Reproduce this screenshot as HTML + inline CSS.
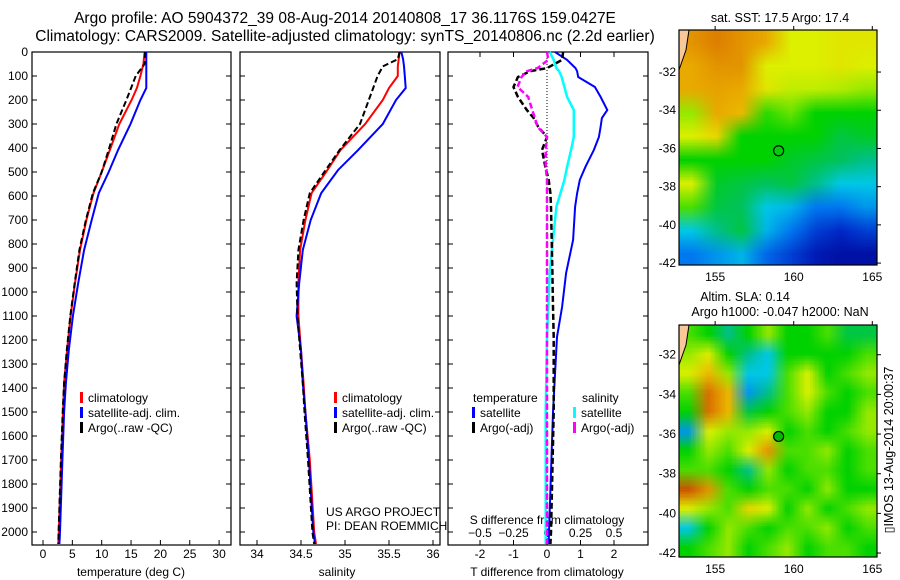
<!DOCTYPE html>
<html><head><meta charset="utf-8">
<style>
html,body{margin:0;padding:0;background:#fff;}
svg{display:block;font-family:"Liberation Sans",sans-serif;}
text{fill:#000;}
</style></head>
<body>
<svg id="fig" width="900" height="580" viewBox="0 0 900 580">
<text x="345" y="23" font-size="15.5" text-anchor="middle">Argo profile: AO 5904372_39 08-Aug-2014 20140808_17 36.1176S 159.0427E</text>
<text x="345" y="41" font-size="15.5" text-anchor="middle">Climatology: CARS2009. Satellite-adjusted climatology: synTS_20140806.nc (2.2d earlier)</text>
<g id="plots"></g>
<g id="maps"></g>
<text transform="translate(893,450) rotate(-90)" font-size="12.5" text-anchor="middle">▯IMOS 13-Aug-2014 20:00:37</text>
</svg>
<script>
// ---------- data ----------
const tDepths=[0,50,100,150,200,300,408,500,588,700,825,963,1100,1242,1380,1500,1700,2000,2050];
const tClim=[17.3,17.1,16.6,16.0,15.1,13.0,11.4,10.0,8.6,7.4,6.3,5.45,4.7,4.1,3.6,3.4,3.1,2.7,2.6];
const tSat=[17.6,17.6,17.6,17.6,16.6,14.9,12.8,11.2,9.5,8.3,7.0,6.0,5.1,4.4,3.9,3.6,3.3,2.9,2.8];
const tArgo=[17.4,17.3,15.8,15.0,14.2,12.5,11.2,10.0,8.5,7.3,6.2,5.4,4.65,4.05,3.6,3.35,3.05,2.65,2.6];
const sDepths=[0,30,60,100,150,200,300,408,492,588,700,825,963,1100,1242,1380,1500,1700,2000,2050];
const sClim=[35.62,35.61,35.6,35.6,35.5,35.43,35.23,34.95,34.8,34.62,34.55,34.49,34.47,34.47,34.5,34.53,34.55,34.6,34.65,34.67];
const sSat=[35.64,35.66,35.67,35.68,35.69,35.58,35.43,35.15,34.92,34.73,34.61,34.52,34.48,34.45,34.5,34.52,34.55,34.59,34.64,34.66];
const sArgo=[35.62,35.6,35.43,35.37,35.32,35.27,35.17,34.94,34.78,34.6,34.53,34.47,34.45,34.46,34.49,34.52,34.54,34.58,34.63,34.65];
const dDepths=[0,33,67,80,104,146,187,242,275,312,354,408,478,533,589,645,783,921,1062,1187,1500,2000,2050];
const dTsat=[0.24,0.6,0.85,0.9,0.93,1.43,1.6,1.8,1.64,1.6,1.55,1.4,1.15,0.98,0.9,0.84,0.78,0.57,0.45,0.3,0.18,0.06,0.05];
const dSsat=[0.02,0.05,0.07,0.09,0.11,0.13,0.15,0.2,0.2,0.2,0.2,0.18,0.15,0.13,0.1,0.07,0.045,0.02,0.01,0,-0.01,-0.01,-0.01];
const dTargo=[0.48,0.45,0.0,-0.5,-0.87,-1.0,-0.87,-0.6,-0.4,-0.26,0.0,-0.15,-0.05,0.05,0.1,0.12,0.14,0.16,0.18,0.2,0.2,0.12,0.1];
const dSargo=[0.0,0.01,-0.07,-0.15,-0.19,-0.22,-0.14,-0.11,-0.09,-0.07,0.0,-0.01,-0.01,0.0,0.0,0.0,0.0,0.0,0.0,0.0,0.0,0.0,0.0];
const depthTicks=[0,100,200,300,400,500,600,700,800,900,1000,1100,1200,1300,1400,1500,1600,1700,1800,1900,2000];
const tempTicks=[0,5,10,15,20,25,30];
const salTicks=[34,34.5,35,35.5,36];
const tdTicks=[-2,-1,0,1,2];
const sdTicks=[-0.5,-0.25,0,0.25,0.5];
const sstGrid=[
[0.75,0.78,0.75,0.72,0.6,0.6,0.62,0.62],
[0.72,0.75,0.75,0.6,0.6,0.6,0.62,0.6],
[0.72,0.73,0.72,0.62,0.58,0.58,0.57,0.55],
[0.55,0.72,0.7,0.48,0.52,0.45,0.45,0.45],
[0.6,0.65,0.45,0.45,0.45,0.45,0.4,0.42],
[0.45,0.45,0.45,0.45,0.42,0.4,0.38,0.35],
[0.6,0.42,0.4,0.38,0.4,0.35,0.3,0.3],
[0.5,0.4,0.38,0.3,0.28,0.22,0.22,0.25],
[0.3,0.35,0.4,0.28,0.22,0.15,0.12,0.15],
[0.22,0.25,0.28,0.2,0.15,0.08,0.05,0.05]];
const slaGrid=[
[0.5,0.45,0.35,0.45,0.55,0.45,0.45,0.5,0.4,0.4],
[0.55,0.6,0.45,0.35,0.3,0.45,0.45,0.45,0.45,0.5],
[0.6,0.7,0.55,0.3,0.3,0.5,0.6,0.45,0.5,0.55],
[0.5,0.8,0.7,0.25,0.35,0.5,0.6,0.5,0.45,0.5],
[0.45,0.8,0.7,0.4,0.45,0.5,0.55,0.45,0.45,0.55],
[0.25,0.6,0.55,0.55,0.6,0.45,0.5,0.45,0.5,0.55],
[0.45,0.55,0.5,0.6,0.75,0.5,0.5,0.55,0.45,0.5],
[0.5,0.5,0.45,0.35,0.55,0.45,0.5,0.5,0.45,0.5],
[0.85,0.75,0.5,0.45,0.5,0.5,0.45,0.55,0.45,0.45],
[0.6,0.55,0.5,0.65,0.6,0.45,0.55,0.45,0.5,0.55],
[0.3,0.45,0.55,0.5,0.45,0.5,0.5,0.55,0.45,0.5],
[0.45,0.5,0.55,0.45,0.5,0.55,0.45,0.5,0.5,0.45]];
const latTicks=[-32,-34,-36,-38,-40,-42];
const lonTicks=[155,160,165];
const argoLon=159.04, argoLat=-36.12;

// ---------- helpers ----------
const NS='http://www.w3.org/2000/svg';
function mk(tag,attrs,parent){const e=document.createElementNS(NS,tag);for(const k in attrs)e.setAttribute(k,attrs[k]);parent.appendChild(e);return e;}
const plots=document.getElementById('plots');
const TOP=52,BOT=545;
const yD=d=>TOP+d*0.24;
const xT=v=>43+v*5.87;
const xS=v=>257+(v-34)*88;
const xTd=v=>547+v*33.5;
const xSd=v=>547+v*134;

function box(x0,x1,name){
  const r=mk('rect',{x:x0,y:TOP,width:x1-x0,height:BOT-TOP,fill:'none',stroke:'#000','stroke-width':1.2},plots);
  
  
}
function line(xs,ds,sx,color,dash,name,w){
  const pts=xs.map((v,i)=>sx(v).toFixed(1)+','+yD(ds[i]).toFixed(1)).join(' ');
  const p=mk('polyline',{points:pts,fill:'none',stroke:color,'stroke-width':w||2},plots);
  if(dash)p.setAttribute('stroke-dasharray',dash);
  
  
}
function xTicks(ticks,sx,y,labelY,name,fmt){
  ticks.forEach(t=>{
    const x=sx(t);
    const l=mk('line',{x1:x,x2:x,y1:y,y2:y-5,stroke:'#000'},plots);
    
    
    const tx=mk('text',{x:x,y:labelY,'font-size':12,'text-anchor':'middle'},plots);
    tx.textContent=fmt?fmt(t):String(t);
    
    
  });
}
function legend(x,y,items,name){
  items.forEach((it,i)=>{
    const yy=y+i*15;
    if(it[0]){const b=mk('rect',{x:x,y:yy-10,width:3,height:11,fill:it[0]},plots);
      
      }
    const t=mk('text',{x:x+(it[0]?8:0),y:yy,'font-size':12},plots);
    t.textContent=it[1];
    
    
  });
}
function text(x,y,s,name,anchor){
  const t=mk('text',{x:x,y:y,'font-size':12,'text-anchor':anchor||'start'},plots);
  t.textContent=s;
  
  
}

box(32,231,'temperature-panel');
box(240,440,'salinity-panel');
box(448,648,'difference-panel');

depthTicks.forEach(d=>{
  const y=yD(d);
  [[32,1],[231,-1],[240,1],[440,-1],[448,1],[648,-1]].forEach(([x,s])=>{
    const l=mk('line',{x1:x,x2:x+5*s,y1:y,y2:y,stroke:'#000'},plots);
    
    
  });
  const t=mk('text',{x:28,y:y+4,'font-size':12,'text-anchor':'end'},plots);
  t.textContent=String(d);
  
  
});

xTicks(tempTicks,xT,BOT,558,'temperature-axis');
xTicks(salTicks,xS,BOT,558,'salinity-axis');
xTicks(tdTicks,xTd,BOT,558,'t-diff-axis');
tdTicks.forEach(t=>{const l=mk('line',{x1:xTd(t),x2:xTd(t),y1:TOP,y2:TOP+5,stroke:'#000'},plots);
  
  });
sdTicks.forEach(t=>{
  const tx=mk('text',{x:xSd(t),y:537,'font-size':12,'text-anchor':'middle'},plots);
  tx.textContent=String(t).replace('-','\u2212');
  
  
});
text(131,576,'temperature (deg C)','temperature-axis-title','middle');
text(337,576,'salinity','salinity-axis-title','middle');
text(547,576,'T difference from climatology','t-diff-axis-title','middle');
text(547,524,'S difference from climatology','s-diff-axis-title','middle');

const z=mk('line',{x1:547,x2:547,y1:TOP,y2:BOT,stroke:'#000','stroke-dasharray':'1,2'},plots);



line(tClim,tDepths,xT,'#f00',null,'temp-climatology-line');
line(tSat,tDepths,xT,'#00f',null,'temp-satellite-line');
line(tArgo,tDepths,xT,'#000','6,3','temp-argo-line');
line(sClim,sDepths,xS,'#f00',null,'sal-climatology-line');
line(sSat,sDepths,xS,'#00f',null,'sal-satellite-line');
line(sArgo,sDepths,xS,'#000','6,3','sal-argo-line');
line(dTsat,dDepths,xTd,'#00f',null,'t-diff-satellite-line');
line(dSsat,dDepths,xSd,'#0ff',null,'s-diff-satellite-line',2.5);
line(dTargo,dDepths,xTd,'#000','6,3','t-diff-argo-line',2.5);
line(dSargo,dDepths,xSd,'#f0f','6,3','s-diff-argo-line',2.5);

legend(80,402,[['#f00','climatology'],['#00f','satellite-adj. clim.'],['#000','Argo(..raw -QC)']],'temp-legend');
legend(334,402,[['#f00','climatology'],['#00f','satellite-adj. clim.'],['#000','Argo(..raw -QC)']],'sal-legend');
legend(473,402,[[null,'temperature']],'diff-legend-t-head');
legend(472,417,[['#00f','satellite'],['#000','Argo(-adj)']],'diff-legend-t');
legend(582,402,[[null,'salinity']],'diff-legend-s-head');
legend(573,417,[['#0ff','satellite'],['#f0f','Argo(-adj)']],'diff-legend-s');
text(326,516,'US ARGO PROJECT','project-credit');
text(326,530,'PI: DEAN ROEMMICH','pi-credit');

// ---------- maps ----------
const stops=[[0,[0,0,140]],[0.12,[0,40,200]],[0.22,[0,120,240]],[0.3,[0,200,230]],[0.36,[0,190,120]],[0.45,[0,210,0]],[0.53,[120,230,0]],[0.6,[220,240,0]],[0.68,[240,200,0]],[0.76,[225,140,0]],[0.88,[200,60,0]],[1,[150,0,0]]];
function cmap(v){
  for(let i=1;i<stops.length;i++){if(v<=stops[i][0]){const a=stops[i-1],b=stops[i];const f=(v-a[0])/(b[0]-a[0]);
    return 'rgb('+a[1].map((c,k)=>Math.round(c+(b[1][k]-c)*f)).join(',')+')';}}
  return 'rgb(150,0,0)';
}
const maps=document.getElementById('maps');
function drawMap(grid,x0,y0,w,h,latTop,latBot,name,smooth,filled){
  const lonL=152.7,lonR=165.3;
  const fo=mk('foreignObject',{x:x0,y:y0,width:w,height:h},maps);
  
  
  const small=document.createElement('canvas');
  const R=grid.length,C=grid[0].length;
  small.width=C;small.height=R;
  const sc=small.getContext('2d');
  grid.forEach((row,r)=>row.forEach((v,c)=>{sc.fillStyle=cmap(v);sc.fillRect(c,r,1,1);}));
  const cv=document.createElement('canvas');cv.width=w;cv.height=h;
  const ctx=cv.getContext('2d');
  if(smooth){
    const big=document.createElement('canvas');big.width=C*8;big.height=R*8;
    const bc=big.getContext('2d');bc.imageSmoothingEnabled=true;bc.drawImage(small,0,0,C*8,R*8);
    ctx.imageSmoothingEnabled=false;ctx.drawImage(big,0,0,w,h);
  } else {ctx.imageSmoothingEnabled=true;ctx.drawImage(small,0,0,w,h);}
  fo.appendChild(cv);
  const lx=v=>x0+(v-lonL)/(lonR-lonL)*w;
  const ly=v=>y0+(latTop-v)/(latTop-latBot)*h;
  const land=mk('path',{d:`M${x0},${y0} L${x0+10},${y0} L${x0+7},${y0+20} L${x0},${y0+40} Z`,fill:'#f8c898',stroke:'#000'},maps);
  
  
  const fr=mk('rect',{x:x0,y:y0,width:w,height:h,fill:'none',stroke:'#000','stroke-width':1.2},maps);
  
  
  latTicks.forEach(t=>{const y=ly(t);
    const l=mk('line',{x1:x0+w,x2:x0+w+4,y1:y,y2:y,stroke:'#000'},maps);
    
    
    const tx=mk('text',{x:x0-3,y:y+4,'font-size':12,'text-anchor':'end'},maps);
    tx.textContent=String(t);
    
    });
  lonTicks.forEach(t=>{const x=lx(t);
    const l=mk('line',{x1:x,x2:x,y1:y0,y2:y0-4,stroke:'#000'},maps);
    
    
    const tx=mk('text',{x:x,y:y0+h+16,'font-size':12,'text-anchor':'middle'},maps);
    tx.textContent=String(t);
    
    });
  const c=mk('circle',{cx:lx(argoLon),cy:ly(argoLat),r:5,fill:filled?'#0b0':'none',stroke:'#000','stroke-width':1.2},maps);
  
  
}
drawMap(sstGrid,679,30,198,235,-29.8,-42.1,'sst-map',false,false);
drawMap(slaGrid,679,325,198,232,-30.5,-42.2,'sla-map',true,true);
function mtext(x,y,s,name){const t=mk('text',{x:x,y:y,'font-size':12.5,'text-anchor':'middle'},maps);t.textContent=s;
  
  }
mtext(780,22,'sat. SST: 17.5 Argo: 17.4','sst-map-title');
mtext(745,301,'Altim. SLA: 0.14','sla-map-title');
mtext(780,316,'Argo h1000: -0.047 h2000: NaN','sla-map-subtitle');
</script>
</body></html>
